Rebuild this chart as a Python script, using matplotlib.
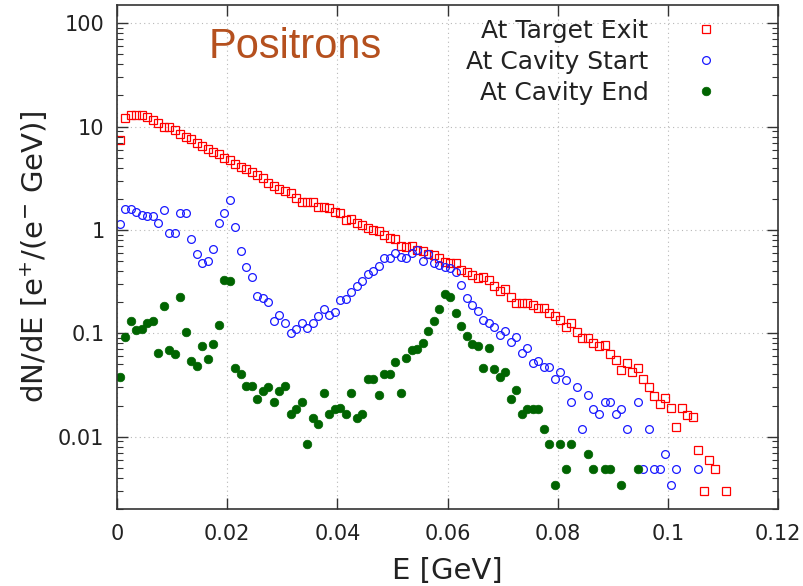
import numpy as np
import matplotlib
matplotlib.use('Agg')
import matplotlib.pyplot as plt
from matplotlib.ticker import FixedLocator, LogLocator, NullFormatter, FuncFormatter

# energy bin centres [GeV] and dN/dE values
e_exit = [0.0005, 0.0015, 0.0025, 0.0035, 0.0045, 0.0055, 0.0065, 0.0075, 0.0085, 0.0095,
          0.0105, 0.0115, 0.0125, 0.0135, 0.0145, 0.0155, 0.0165, 0.0175, 0.0185, 0.0195,
          0.0205, 0.0215, 0.0225, 0.0235, 0.0245, 0.0255, 0.0265, 0.0275, 0.0285, 0.0295,
          0.0305, 0.0315, 0.0325, 0.0335, 0.0345, 0.0355, 0.0365, 0.0375, 0.0385, 0.0395,
          0.0405, 0.0415, 0.0425, 0.0435, 0.0445, 0.0455, 0.0465, 0.0475, 0.0485, 0.0495,
          0.0505, 0.0515, 0.0525, 0.0535, 0.0545, 0.0555, 0.0565, 0.0575, 0.0585, 0.0595,
          0.0605, 0.0615, 0.0625, 0.0635, 0.0645, 0.0655, 0.0665, 0.0675, 0.0685, 0.0695,
          0.0705, 0.0715, 0.0725, 0.0735, 0.0745, 0.0755, 0.0765, 0.0775, 0.0785, 0.0795,
          0.0805, 0.0815, 0.0825, 0.0835, 0.0845, 0.0855, 0.0865, 0.0875, 0.0885, 0.0895,
          0.0905, 0.0915, 0.0925, 0.0935, 0.0945, 0.0955, 0.0965, 0.0975, 0.0985, 0.0995,
          0.1005, 0.1015, 0.1025, 0.1035, 0.1045, 0.1055, 0.1065, 0.1075, 0.1085, 0.1105]
n_exit = [7.4, 12.0, 12.9, 12.9, 12.9, 12.3, 11.5, 10.8, 10.0, 9.8,
          9.3, 8.5, 8.0, 7.5, 7.0, 6.5, 6.1, 5.7, 5.4, 5.0,
          4.7, 4.3, 4.1, 3.9, 3.6, 3.4, 3.2, 2.85, 2.65, 2.5,
          2.39, 2.26, 2.02, 1.87, 1.87, 1.87, 1.68, 1.68, 1.62, 1.50,
          1.45, 1.25, 1.29, 1.16, 1.11, 1.04, 1.0, 0.98, 0.89, 0.83,
          0.81, 0.70, 0.69, 0.70, 0.64, 0.62, 0.59, 0.57, 0.54, 0.49,
          0.48, 0.475, 0.41, 0.39, 0.366, 0.34, 0.35, 0.33, 0.286, 0.256,
          0.266, 0.223, 0.195, 0.195, 0.195, 0.188, 0.175, 0.175, 0.158, 0.147,
          0.134, 0.114, 0.127, 0.104, 0.0895, 0.0895, 0.081, 0.075, 0.0766, 0.063,
          0.055, 0.044, 0.052, 0.0425, 0.046, 0.036, 0.030, 0.025, 0.0206, 0.0238,
          0.019, 0.0125, 0.019, 0.0162, 0.0156, 0.0075, 0.003, 0.006, 0.0049, 0.003]

e_start = [0.0005, 0.0015, 0.0025, 0.0035, 0.0045, 0.0055, 0.0065, 0.0075, 0.0085, 0.0095,
           0.0105, 0.0115, 0.0125, 0.0135, 0.0145, 0.0155, 0.0165, 0.0175, 0.0185, 0.0195,
           0.0205, 0.0215, 0.0225, 0.0235, 0.0245, 0.0255, 0.0265, 0.0275, 0.0285, 0.0295,
           0.0305, 0.0315, 0.0325, 0.0335, 0.0345, 0.0355, 0.0365, 0.0375, 0.0385, 0.0395,
           0.0405, 0.0415, 0.0425, 0.0435, 0.0445, 0.0455, 0.0465, 0.0475, 0.0485, 0.0495,
           0.0505, 0.0515, 0.0525, 0.0535, 0.0545, 0.0555, 0.0565, 0.0575, 0.0585, 0.0595,
           0.0605, 0.0615, 0.0625, 0.0635, 0.0645, 0.0655, 0.0665, 0.0675, 0.0685, 0.0695,
           0.0705, 0.0715, 0.0725, 0.0735, 0.0745, 0.0755, 0.0765, 0.0775, 0.0785, 0.0795,
           0.0805, 0.0815, 0.0825, 0.0835, 0.0845, 0.0855, 0.0865, 0.0875, 0.0885, 0.0895,
           0.0905, 0.0915, 0.0925, 0.0945, 0.0955, 0.0965, 0.0975, 0.0985, 0.0995, 0.1005,
           0.1015, 0.1055]
n_start = [1.14, 1.58, 1.58, 1.49, 1.39, 1.36, 1.37, 1.16, 1.55, 0.93,
           0.93, 1.45, 1.45, 0.81, 0.58, 0.475, 0.50, 0.65, 1.17, 1.46,
           1.95, 1.07, 0.63, 0.44, 0.35, 0.23, 0.218, 0.20, 0.133, 0.149,
           0.125, 0.101, 0.111, 0.126, 0.113, 0.126, 0.147, 0.172, 0.151, 0.161,
           0.208, 0.213, 0.25, 0.287, 0.323, 0.374, 0.403, 0.447, 0.531, 0.531,
           0.60, 0.543, 0.531, 0.60, 0.64, 0.50, 0.58, 0.475, 0.458, 0.44,
           0.425, 0.394, 0.293, 0.218, 0.188, 0.166, 0.136, 0.127, 0.114, 0.096,
           0.105, 0.083, 0.0915, 0.065, 0.0716, 0.052, 0.054, 0.047, 0.047, 0.036,
           0.042, 0.035, 0.0218, 0.030, 0.0119, 0.0253, 0.0184, 0.0165, 0.0218, 0.0218,
           0.0165, 0.0184, 0.0118, 0.0218, 0.0049, 0.0118, 0.0049, 0.0049, 0.0068, 0.0034,
           0.0049, 0.0049]

e_end = [0.0005, 0.0015, 0.0025, 0.0035, 0.0045, 0.0055, 0.0065, 0.0075, 0.0085, 0.0095,
         0.0105, 0.0115, 0.0125, 0.0135, 0.0145, 0.0155, 0.0165, 0.0175, 0.0185, 0.0195,
         0.0205, 0.0215, 0.0225, 0.0235, 0.0245, 0.0255, 0.0265, 0.0275, 0.0285, 0.0295,
         0.0305, 0.0315, 0.0325, 0.0335, 0.0345, 0.0355, 0.0365, 0.0375, 0.0385, 0.0395,
         0.0405, 0.0415, 0.0425, 0.0435, 0.0445, 0.0455, 0.0465, 0.0475, 0.0485, 0.0495,
         0.0505, 0.0515, 0.0525, 0.0535, 0.0545, 0.0555, 0.0565, 0.0575, 0.0585, 0.0595,
         0.0605, 0.0615, 0.0625, 0.0635, 0.0645, 0.0655, 0.0665, 0.0675, 0.0685, 0.0695,
         0.0705, 0.0715, 0.0725, 0.0735, 0.0745, 0.0755, 0.0765, 0.0775, 0.0785, 0.0795,
         0.0805, 0.0815, 0.0825, 0.0855, 0.0865, 0.0885, 0.0895, 0.0915, 0.0945]
n_end = [0.038, 0.093, 0.131, 0.107, 0.110, 0.125, 0.131, 0.065, 0.184, 0.069,
         0.063, 0.223, 0.102, 0.0536, 0.048, 0.075, 0.057, 0.079, 0.120, 0.33,
         0.32, 0.046, 0.040, 0.031, 0.031, 0.023, 0.028, 0.030, 0.0218, 0.028,
         0.031, 0.0165, 0.0185, 0.0218, 0.0085, 0.0153, 0.0132, 0.0267, 0.0165, 0.0184,
         0.0188, 0.0165, 0.0267, 0.0153, 0.0165, 0.036, 0.036, 0.0253, 0.040, 0.040,
         0.053, 0.0267, 0.058, 0.069, 0.070, 0.081, 0.106, 0.131, 0.171, 0.240,
         0.226, 0.156, 0.118, 0.094, 0.079, 0.075, 0.0465, 0.0726, 0.0449, 0.038,
         0.0425, 0.023, 0.0283, 0.0165, 0.0185, 0.0186, 0.0186, 0.0118, 0.0085, 0.0034,
         0.0085, 0.0049, 0.0085, 0.0068, 0.0049, 0.0049, 0.0049, 0.0034, 0.0049]

plt.rcParams['font.family'] = 'DejaVu Sans'

fig = plt.figure(figsize=(8.04, 5.86), dpi=100)
ax = fig.add_axes([0.1455, 0.1314, 0.8222, 0.8601])

ax.plot(e_exit, n_exit, ls='none', marker='s', ms=5.8, mfc='none', mec='#ff0000', mew=0.9,
        label='At Target Exit')
ax.plot(e_start, n_start, ls='none', marker='o', ms=5.6, mfc='none', mec='#1a1aff', mew=0.9,
        label='At Cavity Start')
ax.plot(e_end, n_end, ls='none', marker='o', ms=6.2, mfc='#006400', mec='#006400', mew=0.5,
        label='At Cavity End')

ax.set_yscale('log')
ax.set_xlim(0, 0.12)
ax.set_ylim(0.002, 150)

ax.xaxis.set_major_locator(FixedLocator([0, 0.02, 0.04, 0.06, 0.08, 0.1, 0.12]))
ax.xaxis.set_major_formatter(FuncFormatter(lambda v, p: '%g' % round(v, 4)))
ax.yaxis.set_major_locator(FixedLocator([0.01, 0.1, 1, 10, 100]))
ax.yaxis.set_major_formatter(FuncFormatter(lambda v, p: '%g' % v))
ax.yaxis.set_minor_locator(LogLocator(base=10, subs=np.arange(2, 10)))
ax.yaxis.set_minor_formatter(NullFormatter())

ax.tick_params(which='both', direction='in', top=True, right=True, labelsize=15,
               color='#333333', labelcolor='#222222')
ax.tick_params(axis='x', pad=11)
ax.tick_params(axis='y', pad=9)
ax.tick_params(which='major', length=8, width=1)
ax.tick_params(which='minor', length=4, width=0.8)
ax.tick_params(axis='x', which='minor', length=0)
for s in ax.spines.values():
    s.set_color('#333333')
    s.set_linewidth(1.2)

ax.grid(True, which='major', ls=(0, (1, 3)), color='#b8b8b8', lw=0.8)

ax.set_xlabel('E [GeV]', fontsize=21, color='#222222', labelpad=9)
ax.set_ylabel('dN/dE [e$^{+}$/(e$^{-}$ GeV)]', fontsize=21, color='#222222', labelpad=6)

ax.text(0.138, 0.894, 'Positrons', transform=ax.transAxes, fontsize=30,
        family='Liberation Sans', color='#b5501e', ha='left', va='baseline')

leg = ax.legend(loc='upper right', bbox_to_anchor=(0.910, 0.973), frameon=False,
                markerfirst=False, fontsize=18, handlelength=1.0, handletextpad=1.8,
                labelspacing=0.28, borderpad=0, borderaxespad=0)
for t in leg.get_texts():
    t.set_color('#222222')

fig.savefig('out.png', dpi=100)
